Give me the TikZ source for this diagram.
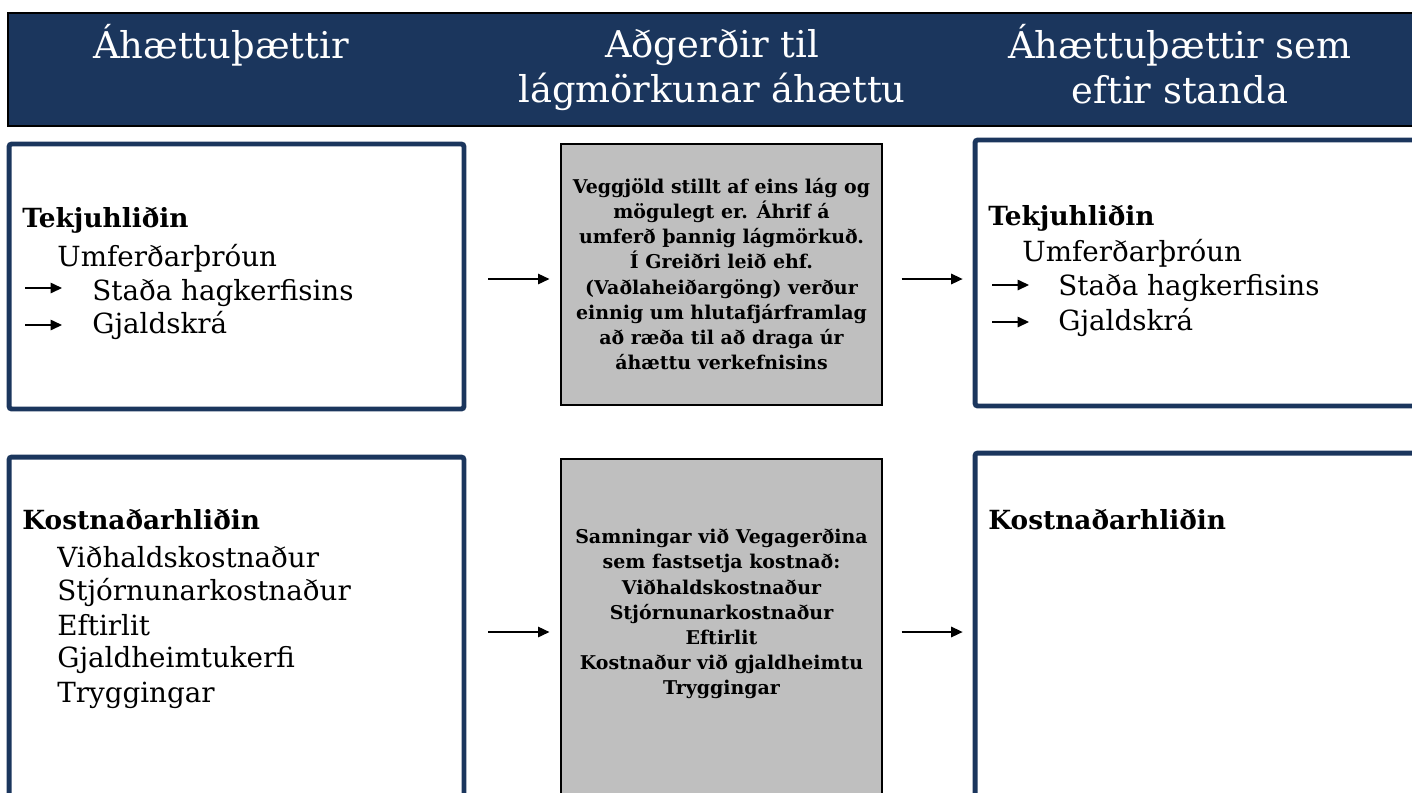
\documentclass[tikz,border=0pt]{standalone}
\usepackage{fontspec}
\setmainfont{DejaVu Serif}
\usetikzlibrary{arrows.meta,positioning}
\definecolor{navy}{RGB}{27,54,93}
\definecolor{boxgrey}{RGB}{191,191,191}
\tikzset{
    header/.style={
    rectangle,draw=black,fill=navy,line width=1.1pt,minimum width=28.24cm,minimum height=2.26cm
    },
    headtext/.style={
    text=white,align=center,font=\fontsize{21}{25.5}\selectfont
    },
    factor/.style={
    rectangle,rounded corners=1.5pt,draw=navy,line width=2.8pt,minimum width=9.1cm
    },
    measure/.style={
    rectangle,draw=black,fill=boxgrey,line width=0.7pt,minimum width=6.42cm
    },
    measuretext/.style={
    align=center,font=\fontsize{10.8}{14.3}\selectfont\bfseries
    },
    title/.style={
    anchor=west,inner sep=0pt,font=\fontsize{15}{18}\selectfont\bfseries
    },
    item/.style={
    anchor=west,inner sep=0pt,font=\fontsize{15.8}{18}\selectfont
    },
    flow/.style={
    -{Triangle[length=6.5pt,width=6pt]},line width=0.7pt
    },
}
\begin{document}
\begin{tikzpicture}[x=0.02cm, y=-0.02cm]
   \useasboundingbox (0,0) rectangle (1412,792);
   \clip (0,0) rectangle (1412,792);
   % header
   \node[header] (head) at (714,69.5) {};
   \node[headtext] (h1) at (221,45) {Áhættuþættir};
   \node[headtext] (h2) at (712,70) {Aðgerðir til\\lágmörkunar áhættu};
   \node[headtext] (h3) at (1180,64) {Áhættuþættir sem\\eftir standa};

   % boxes
   \node[factor, minimum height=5.3cm] (tl) at (236.5,276.5) {};
   \node[measure, minimum height=5.22cm] (tm) at (721.5,274.5) {};
   \node[factor, minimum height=5.32cm] (tr) at (1202.5,273) {};
   \node[factor, minimum height=7cm] (bl) at (236.5,632) {};
   \node[measure, minimum height=6.92cm] (bm) at (721.5,632) {};
   \node[factor, minimum height=7.16cm] (br) at (1202.5,632) {};

   % top left
   \node[title] (tekL) at (22,220) {Tekjuhliðin};
   \node[item] (umfL) at (57,258) {Umferðarþróun};
   \node[item] (stadaL) at (92,293) {Staða hagkerfisins};
   \node[item] (gjaldL) at (92,325) {Gjaldskrá};
   \coordinate (aL1) at (25,288);
   \coordinate (aL2) at (25,325);

   % top right
   \node[title] (tekR) at (988,218) {Tekjuhliðin};
   \node[item] (umfR) at (1022,253) {Umferðarþróun};
   \node[item] (stadaR) at (1058,288) {Staða hagkerfisins};
   \node[item] (gjaldR) at (1058,322) {Gjaldskrá};
   \coordinate (aR1) at (992,285);
   \coordinate (aR2) at (992,322);

   % bottom left / right
   \node[title] (kostL) at (22,520) {Kostnaðarhliðin};
   \node[item] (vidL) at (57,557) {Viðhaldskostnaður};
   \node[item] (stjL) at (57,592) {Stjórnunarkostnaður};
   \node[item] (eftL) at (57,625) {Eftirlit};
   \node[item] (gjhL) at (57,660) {Gjaldheimtukerfi};
   \node[item] (tryL) at (57,695) {Tryggingar};
   \node[title] (kostR) at (988,520) {Kostnaðarhliðin};

   % grey boxes
   \node[measuretext] (mt) at (721.5,274) {Veggjöld stillt af eins lág og\\mögulegt er. Áhrif á\\umferð þannig lágmörkuð.\\Í Greiðri leið ehf.\\(Vaðlaheiðargöng) verður\\einnig um hlutafjárframlag\\að ræða til að draga úr\\áhættu verkefnisins};
   \node[measuretext] (mb) at (721.5,614) {Samningar við Vegagerðina\\sem fastsetja kostnað:\\Viðhaldskostnaður\\Stjórnunarkostnaður\\Eftirlit\\Kostnaður við gjaldheimtu\\Tryggingar};

  \path[flow]
    (aL1) edge ([xshift=0.74cm]aL1)
    (aL2) edge ([xshift=0.74cm]aL2)
    (aR1) edge ([xshift=0.74cm]aR1)
    (aR2) edge ([xshift=0.74cm]aR2);
  \path[flow]
    ([yshift=-0.05cm]tl.east) edge[shorten <=0.44cm, shorten >=0.22cm] ([yshift=-0.05cm]tl.east -| tm.west)
    ([yshift=-0.05cm]tl.east -| tm.east) edge[shorten <=0.38cm, shorten >=0.2cm] ([yshift=-0.05cm]tl.east -| tr.west)
    (bl.east) edge[shorten <=0.44cm, shorten >=0.22cm] (bm.west)
    (bm.east) edge[shorten <=0.38cm, shorten >=0.2cm] (br.west);
\end{tikzpicture}
\end{document}
